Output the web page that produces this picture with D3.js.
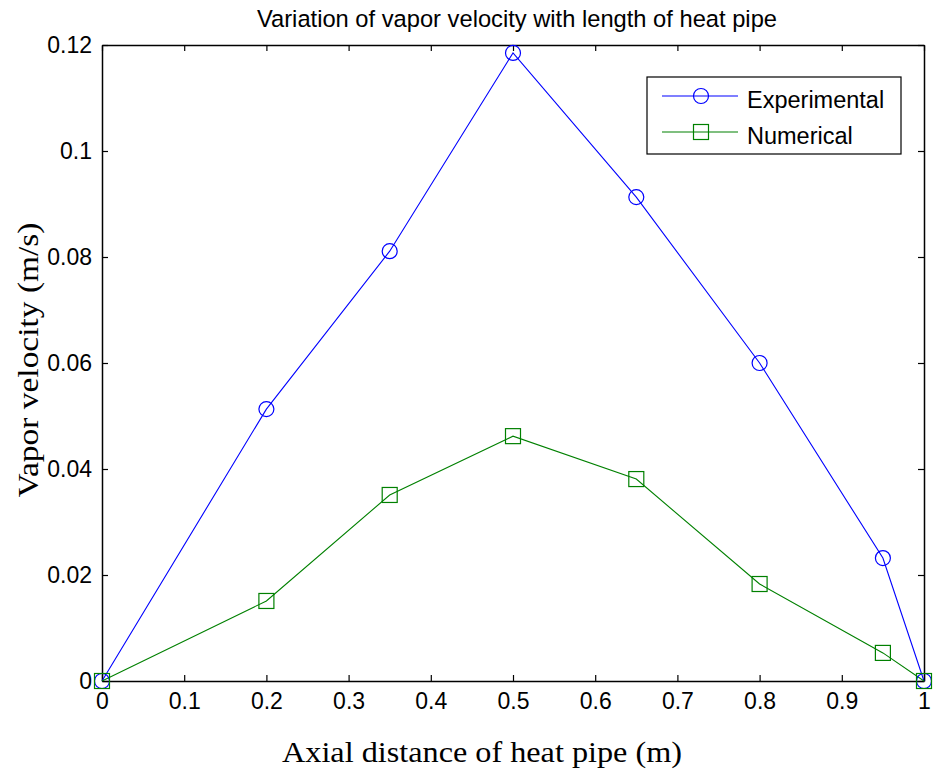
<!DOCTYPE html>
<html>
<head>
<meta charset="utf-8">
<script src="https://cdn.jsdelivr.net/npm/d3@7"></script>
<style>
  body { margin: 0; background: #fff; }
  svg { display: block; }
</style>
</head>
<body>
<svg id="chart" width="940" height="776"></svg>
<script>
// data
var xPos = [0, 0.2, 0.35, 0.5, 0.65, 0.8, 0.95, 1];
var experimental = [0, 0.0513, 0.0811, 0.1185, 0.0913, 0.0600, 0.0232, 0];
var numerical = [0, 0.0151, 0.0351, 0.0462, 0.0381, 0.0183, 0.0053, 0];
var xTicks = [0, 0.1, 0.2, 0.3, 0.4, 0.5, 0.6, 0.7, 0.8, 0.9, 1];
var yTicks = [0, 0.02, 0.04, 0.06, 0.08, 0.1, 0.12];

var margin = {left: 102, right: 16, top: 45, bottom: 95};
var W = 940, H = 776;

var svg = d3.select("#chart");
var x = d3.scaleLinear().domain([0, 1]).range([margin.left, W - margin.right]);
var y = d3.scaleLinear().domain([0, 0.12]).range([H - margin.bottom, margin.top]);

var tickFmt = function(d) { return d3.format("~g")(d); };
var sans = "'Liberation Sans', Arial, sans-serif";
var serif = "'Liberation Serif', 'Times New Roman', serif";

// axes, ticks point inward
var gx = svg.append("g").attr("transform", "translate(0," + y(0) + ")")
    .call(d3.axisBottom(x).tickValues(xTicks).tickFormat(tickFmt).tickSizeInner(-6).tickSizeOuter(0).tickPadding(12));
var gxTop = svg.append("g").attr("transform", "translate(0," + y(0.12) + ")")
    .call(d3.axisTop(x).tickValues(xTicks).tickFormat("").tickSizeInner(-6).tickSizeOuter(0));
var gy = svg.append("g").attr("transform", "translate(" + x(0) + ",0)")
    .call(d3.axisLeft(y).tickValues(yTicks).tickFormat(tickFmt).tickSizeInner(-6).tickSizeOuter(0).tickPadding(10));
var gyRight = svg.append("g").attr("transform", "translate(" + x(1) + ",0)")
    .call(d3.axisRight(y).tickValues(yTicks).tickFormat("").tickSizeInner(-6).tickSizeOuter(0));

[gx, gxTop, gy, gyRight].forEach(function(g) {
    g.selectAll("path.domain").attr("stroke", "#000").attr("stroke-width", 1.5);
    g.selectAll(".tick line").attr("stroke", "#000").attr("stroke-width", 1.2);
    g.selectAll("text").attr("fill", "#000").style("font-family", sans).style("font-size", "23px");
});

// lines
var line = d3.line().x(function(d) { return x(d[0]); }).y(function(d) { return y(d[1]); });
var expPts = xPos.map(function(v, i) { return [v, experimental[i]]; });
var numPts = xPos.map(function(v, i) { return [v, numerical[i]]; });

svg.append("path").datum(expPts).attr("d", line)
    .attr("fill", "none").attr("stroke", "#0000ff").attr("stroke-width", 1.1);
svg.append("path").datum(numPts).attr("d", line)
    .attr("fill", "none").attr("stroke", "#008000").attr("stroke-width", 1.1);

svg.selectAll("circle.exp").data(expPts).enter().append("circle")
    .attr("class", "exp")
    .attr("cx", function(d) { return x(d[0]); })
    .attr("cy", function(d) { return y(d[1]); })
    .attr("r", 7.5)
    .attr("fill", "none").attr("stroke", "#0000ff").attr("stroke-width", 1.2);
svg.selectAll("rect.num").data(numPts).enter().append("rect")
    .attr("class", "num")
    .attr("x", function(d) { return x(d[0]) - 7.5; })
    .attr("y", function(d) { return y(d[1]) - 7.5; })
    .attr("width", 15).attr("height", 15)
    .attr("fill", "none").attr("stroke", "#008000").attr("stroke-width", 1.2);

// legend
var lg = svg.append("g").attr("transform", "translate(647,77)");
lg.append("rect").attr("width", 254).attr("height", 77)
    .attr("fill", "#fff").attr("stroke", "#000").attr("stroke-width", 1.2);
var items = [
    {name: "Experimental", color: "#0000ff", shape: "circle", cy: 19},
    {name: "Numerical", color: "#008000", shape: "square", cy: 55}
];
items.forEach(function(it) {
    lg.append("line").attr("x1", 15).attr("x2", 91).attr("y1", it.cy).attr("y2", it.cy)
        .attr("stroke", it.color).attr("stroke-width", 1.1);
    if (it.shape == "circle") {
        lg.append("circle").attr("cx", 54).attr("cy", it.cy).attr("r", 7.5)
            .attr("fill", "none").attr("stroke", it.color).attr("stroke-width", 1.2);
    } else {
        lg.append("rect").attr("x", 46.5).attr("y", it.cy - 7.5).attr("width", 15).attr("height", 15)
            .attr("fill", "none").attr("stroke", it.color).attr("stroke-width", 1.2);
    }
    lg.append("text").attr("x", 100).attr("y", it.cy + 12)
        .style("font-family", sans).style("font-size", "23.5px").text(it.name);
});

// titles
svg.append("text").attr("x", 517).attr("y", 27).attr("text-anchor", "middle")
    .attr("textLength", 520).attr("lengthAdjust", "spacingAndGlyphs")
    .style("font-family", sans).style("font-size", "24.5px")
    .text("Variation of vapor velocity with length of heat pipe");
svg.append("text").attr("x", 482).attr("y", 762).attr("text-anchor", "middle")
    .attr("textLength", 400).attr("lengthAdjust", "spacingAndGlyphs")
    .style("font-family", serif).style("font-size", "29px")
    .text("Axial distance of heat pipe (m)");
svg.append("text")
    .attr("transform", "translate(38,360) rotate(-90)")
    .attr("text-anchor", "middle")
    .attr("textLength", 275).attr("lengthAdjust", "spacingAndGlyphs")
    .style("font-family", serif).style("font-size", "29px")
    .text("Vapor velocity (m/s)");
</script>
</body>
</html>
